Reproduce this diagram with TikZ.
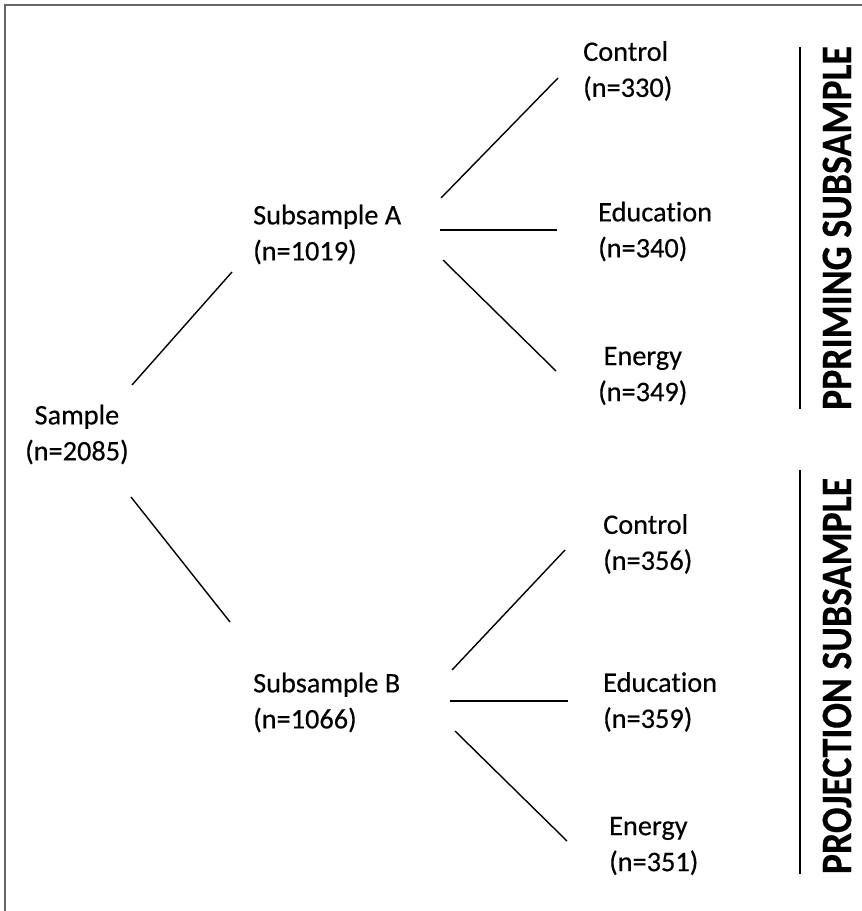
\documentclass[tikz,border=0pt]{standalone}
\usepackage{fontspec}
\setmainfont{Carlito}[Ligatures=NoCommon,FakeBold=0.35,BoldFeatures={FakeBold=0.35}]
\usetikzlibrary{calc}
\begin{document}
\begin{tikzpicture}[x=1pt,y=-1pt,
  lbl/.style={inner sep=0pt,anchor=west,align=left,font=\fontsize{28.3pt}{36pt}\selectfont},
  lblc/.style={lbl,align=center},
  conn/.style={line width=1.4pt,black},
  bar/.style={line width=1.8pt,black},
  side/.style={inner sep=0pt,rotate=90,yscale=1.15,font=\bfseries\fontsize{37.8pt}{40pt}\selectfont},
  frame/.style={line width=1.6pt,draw=black!60}]
\useasboundingbox (0,0) rectangle (862,911);
\draw[frame] (5,911) -- (5,5) -- (862,5);
% nodes
\node[lblc] (s) at (25,434.5) {Sample\\(n=2085)};
\node[lbl] (sa) at (253,234.5) {Subsample A\\(n=1019)};
\node[lbl] (sb) at (253,702.5) {Subsample B\\(n=1066)};
\node[lbl] (c1) at (583,71) {Control\\(n=330)};
\node[lbl] (e1) at (598,231.5) {Education\\(n=340)};
\node[lblc] (g1) at (598,376) {Energy\\(n=349)};
\node[lbl] (c2) at (603,544) {Control\\(n=356)};
\node[lbl] (e2) at (603,702) {Education\\(n=359)};
\node[lbl] (g2) at (609,846) {Energy\\(n=351)};
% connector end points
\coordinate (sA0) at (132,385); \coordinate (sA1) at (232,272);
\coordinate (sB0) at (131,497); \coordinate (sB1) at (230,622);
\coordinate (ac0) at (441,198); \coordinate (ac1) at (558,78);
\coordinate (ae0) at (440,230); \coordinate (ae1) at (557,230);
\coordinate (ag0) at (443,260); \coordinate (ag1) at (556,371);
\coordinate (bc0) at (452,670); \coordinate (bc1) at (565,550);
\coordinate (be0) at (450,701); \coordinate (be1) at (568,701);
\coordinate (bg0) at (455,731); \coordinate (bg1) at (567,841);
\draw[conn] (sA0) -- (sA1);
\draw[conn] (sB0) -- (sB1);
\draw[conn] (ac0) -- (ac1);
\draw[conn] (ae0) -- (ae1);
\draw[conn] (ag0) -- (ag1);
\draw[conn] (bc0) -- (bc1);
\draw[conn] (be0) -- (be1);
\draw[conn] (bg0) -- (bg1);
% side bars
\coordinate (p0) at (800,47); \coordinate (p1) at (800,409);
\coordinate (q0) at (800,470); \coordinate (q1) at (800,874);
\draw[bar] (p0) -- (p1);
\draw[bar] (q0) -- (q1);
\node[side] (pl) at (837,228) {PPRIMING SUBSAMPLE};
\node[side] (ql) at (837,676) {PROJECTION SUBSAMPLE};
\end{tikzpicture}
\end{document}
